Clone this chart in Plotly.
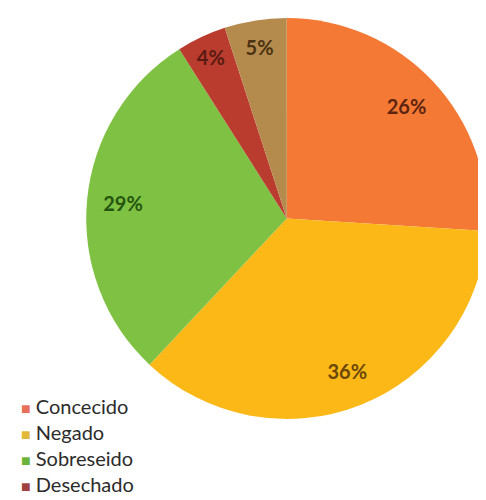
import plotly.graph_objects as go

labels = ["Concedido", "Negado", "Sobreseido", "Desechado", "Otros"]
values = [26, 36, 29, 4, 5]
colors = ["#F47934", "#FCB817", "#7FC143", "#B93C2E", "#B58B4D"]
text_colors = ["#5E2410", "#6B4808", "#24560F", "#5A1A12", "#4A3212"]
legend_labels = ["Concecido", "Negado", "Sobreseido", "Desechado"]
legend_colors = ["#E8705A", "#E2B838", "#6BB43A", "#A04040"]

domain = dict(x=[0.161, 0.986], y=[0.176, 0.982])

fig = go.Figure()
# colored slices
fig.add_trace(go.Pie(
    labels=labels,
    values=values,
    sort=False,
    direction="clockwise",
    marker=dict(colors=colors, line=dict(width=0)),
    textinfo="none",
    domain=domain,
    showlegend=False,
    hoverinfo="label+percent",
))
# transparent ring that carries the percent labels further out
fig.add_trace(go.Pie(
    labels=labels,
    values=values,
    sort=False,
    direction="clockwise",
    hole=0.64,
    marker=dict(colors=["rgba(0,0,0,0)"] * len(labels), line=dict(width=0)),
    texttemplate="%{percent:.0%}",
    textposition="inside",
    insidetextorientation="horizontal",
    textfont=dict(family="Lato", size=20, color=text_colors, weight="bold"),
    domain=domain,
    showlegend=False,
    hoverinfo="skip",
))

# legend drawn as one block of text rows
rows = [
    f"<span style='color:{col}; font-size:16px'>■</span> {lab}"
    for lab, col in zip(legend_labels, legend_colors)
]
fig.add_annotation(
    xref="paper", yref="paper",
    x=0.022, y=1 - 384 / 500,
    xanchor="left", yanchor="top",
    align="left",
    text="<br>".join(rows),
    showarrow=False,
    font=dict(family="Lato", size=20, color="#2B2B2B"),
)

fig.update_layout(
    width=486,
    height=500,
    margin=dict(l=0, r=0, t=0, b=0),
    paper_bgcolor="white",
    plot_bgcolor="white",
    showlegend=False,
)

fig.write_html("out.html")
